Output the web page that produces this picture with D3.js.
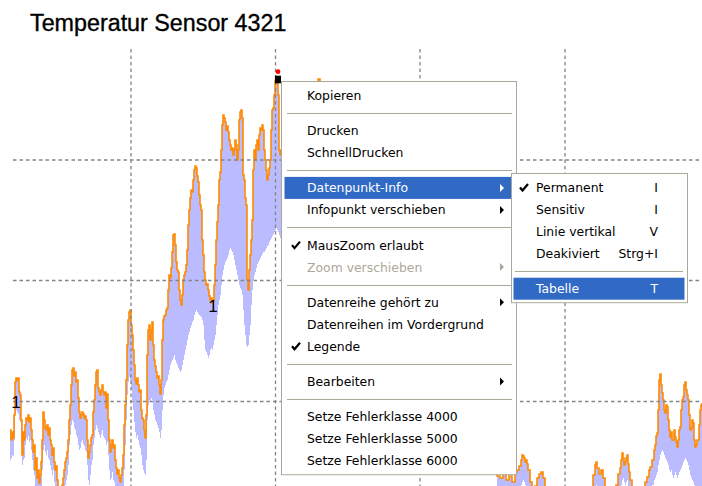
<!DOCTYPE html>
<html><head><meta charset="utf-8">
<script src="https://cdn.jsdelivr.net/npm/d3@7/dist/d3.min.js"></script>
<style>html,body{margin:0;padding:0;background:#fff;overflow:hidden}</style>
</head><body>
<svg id="chart" width="702" height="486"></svg>
<script>
const title = "Temperatur Sensor 4321";

// Segment A: consecutive sample numbers starting at segAStart (max / min raw values)
const segAStart = 0;
const hiA = [
70,60,68,62,85,118,122,120,122,108,
105,80,45,68,60,75,82,80,85,78,
82,70,60,48,55,30,42,22,30,17,
25,38,60,88,80,72,70,75,65,72,
60,55,45,52,38,30,34,20,12,10,
8,12,15,22,30,38,42,48,60,80,
95,115,130,132,124,128,118,120,102,88,
82,85,88,86,82,84,80,60,42,48,
55,62,65,88,100,115,128,130,112,108,
105,110,115,108,105,108,92,106,80,60,
48,55,60,52,55,40,32,26,30,22,
18,25,32,45,75,95,120,155,180,188,
190,175,165,150,135,120,116,122,115,108,
110,90,82,80,70,62,85,145,170,175,
160,170,178,155,140,134,128,122,124,115,
106,120,160,180,184,185,190,192,210,225,
222,232,248,265,266,255,238,230,228,210,
200,195,205,220,225,228,235,250,275,290,
302,310,308,320,330,334,332,324,318,305,
295,290,260,245,228,220,215,216,210,204,
200,202,197,200,215,235,260,278,295,320,
328,350,375,385,382,378,370,374,368,360,
355,350,352,345,350,360,355,340,350,380,
388,390,382,325,320,302,295,220,210,230,
245,260,280,330,350,340,355,360,350,365,
372,370,375,370,350,340,330,320,325,332,
340,370,390,392,405,420,422,416,405,350,345];
const loA = [
40,42,45,44,60,85,90,88,86,80,
78,55,35,40,42,55,62,60,64,58,
60,50,40,30,25,14,10,5,5,0,
0,10,30,50,55,48,45,50,42,40,
35,30,25,30,18,10,8,0,0,0,
0,0,0,0,5,15,20,25,35,55,
65,75,80,78,72,70,65,62,55,50,
52,58,60,56,54,50,48,35,20,15,
25,35,40,55,62,70,75,72,68,65,
62,66,70,64,62,60,55,58,45,30,
20,22,28,20,18,10,5,0,0,0,
0,0,0,10,30,55,80,105,118,123,
120,110,100,90,78,68,62,65,60,55,
52,45,35,30,27,25,40,80,95,100,
98,102,100,90,85,80,78,75,72,68,
62,70,90,105,112,115,118,120,125,130,
135,138,140,142,145,140,137,135,132,130,
128,130,135,140,145,150,155,160,165,168,
172,175,178,180,185,188,190,188,186,185,
184,183,180,175,160,150,148,145,142,145,
150,152,150,155,160,165,175,185,195,200,
205,215,225,230,235,238,240,242,245,250,
252,250,248,245,240,235,230,225,220,215,
212,210,205,190,175,165,155,153,155,165,
175,195,210,220,225,228,232,236,238,240,
242,244,246,248,248,250,252,254,255,258,
260,262,264,266,268,270,272,270,268,265,262];

// Segment B: explicit sample numbers
const tB = [271,275,280,285,290,295,300,305,308,310,315,325,340,355,370,385,400,415,430,445,460,475,485,487,490,493,496,499,502,505,
507,509,511,512,513,514,515,516,517,518,520,522,525,527,529,531,533,535,540,550,565,580,583,585,586,587,589,591,593,595,
602,606,608,610,611,612,613,614,615,616,617,618,619,620,622,630,635,637,639,640,642,644,645,646,647,
648,649,650,651,652,653,654,655,656,657,658,659,660,661,662,663,664,665,666,667,668,669,670,671,672,
673,674,675,676,677,678,679,680,681,682,683,684,685,686,687,688,689,690,691,692];
const hiB = [350,380,360,340,370,390,400,410,421,405,360,330,300,270,250,220,180,150,120,90,60,45,30,24,22,26,20,24,18,28,
30,34,40,45,44,42,38,40,36,30,18,12,14,22,26,28,22,10,5,0,0,8,25,35,38,32,26,30,22,10,
5,15,26,32,40,47,42,35,38,42,45,36,28,20,10,5,18,23,30,33,40,50,55,64,67,
90,120,126,115,107,100,90,87,95,93,80,70,63,68,60,
60,70,63,58,53,60,70,73,90,100,103,115,118,110,105,100,85,70,72,80,77,60,53,55,60,60,75,90,95,97];
const loB = [262,270,260,250,255,270,280,290,300,290,270,250,220,190,170,150,120,90,70,50,35,30,30,10,5,8,5,8,0,5,
10,12,15,18,20,18,15,12,10,5,0,0,0,5,8,10,5,0,0,0,0,0,5,12,15,12,8,10,5,0,
0,0,5,10,15,20,22,18,15,18,20,14,8,2,0,0,0,5,8,10,15,20,22,25,28,
35,40,45,48,50,48,45,42,40,38,35,30,28,30,25,
22,25,28,25,22,25,28,30,32,35,38,40,42,40,38,35,30,25,22,20,18,15,10,8,5,5,8,10,12,15];

const xGridTicks = [121, 265.5, 410, 555];
const yGridTicks = [98.5, 219.5, 340];
const infoLabels = [{t: 6, v: 92, text: "1"}, {t: 203, v: 188, text: "1"}];
const infoMarker = {t: 268, v: 420};

const menuItems = [
  {label: "Kopieren"}, {sep: true},
  {label: "Drucken"}, {label: "SchnellDrucken"}, {sep: true},
  {label: "Datenpunkt-Info", sub: true, hl: true}, {label: "Infopunkt verschieben", sub: true}, {sep: true},
  {label: "MausZoom erlaubt", check: true}, {label: "Zoom verschieben", sub: true, disabled: true}, {sep: true},
  {label: "Datenreihe gehört zu", sub: true}, {label: "Datenreihen im Vordergrund"}, {label: "Legende", check: true}, {sep: true},
  {label: "Bearbeiten", sub: true}, {sep: true},
  {label: "Setze Fehlerklasse 4000"}, {label: "Setze Fehlerklasse 5000"}, {label: "Setze Fehlerklasse 6000"}
];
const subItems = [
  {label: "Permanent", key: "I", check: true},
  {label: "Sensitiv", key: "I"},
  {label: "Linie vertikal", key: "V"},
  {label: "Deakiviert", key: "Strg+I"},
  {sep: true},
  {label: "Tabelle", key: "T", hl: true}
];

const data = hiA.map((h, i) => ({t: segAStart + i, hi: h, lo: loA[i]}))
  .concat(tB.map((t, i) => ({t: t, hi: hiB[i], lo: loB[i]})));

const svg = d3.select("#chart");
const W = 702, H = 486;
const x = d3.scaleLinear().domain([0, 692]).range([10, 702]);
const y = d3.scaleLinear().domain([14, 451]).range([486, 49]);

svg.append("defs").append("clipPath").attr("id", "plot")
  .append("rect").attr("x", 10).attr("y", 49).attr("width", 692).attr("height", 437);

svg.append("text").attr("x", 30).attr("y", 31)
  .attr("font-family", "Liberation Sans, Arial, sans-serif").attr("font-size", 23.3)
  .attr("fill", "#000").attr("stroke", "#000").attr("stroke-width", 0.35)
  .text(title);

const plot = svg.append("g").attr("clip-path", "url(#plot)");

plot.append("path").datum(data)
  .attr("fill", "#bbbbff")
  .attr("d", d3.area().x(d => x(d.t)).y0(d => y(d.lo)).y1(d => y(d.hi)).curve(d3.curveStepAfter));

plot.append("path").datum(data)
  .attr("fill", "none").attr("stroke", "#ff8a00").attr("stroke-width", 1.6)
  .attr("d", d3.line().x(d => x(d.t)).y(d => y(d.hi)).curve(d3.curveStepAfter));

// grid (drawn above data)
const grid = svg.append("g").attr("stroke", "#858585").attr("stroke-width", 1.3).attr("stroke-dasharray", "3.5,3");
grid.selectAll(".vg").data(xGridTicks).join("line")
  .attr("x1", d => x(d)).attr("x2", d => x(d)).attr("y1", 49).attr("y2", H);
grid.selectAll(".hg").data(yGridTicks).join("line")
  .attr("y1", d => y(d)).attr("y2", d => y(d)).attr("x1", 13).attr("x2", W);

// info labels
svg.selectAll(".info").data(infoLabels).join("text")
  .attr("x", d => x(d.t)).attr("y", d => y(d.v))
  .attr("text-anchor", "middle")
  .attr("font-family", "Liberation Sans, Arial, sans-serif").attr("font-size", 17)
  .attr("fill", "#000").text(d => d.text);

// info marker
svg.append("rect").attr("x", x(infoMarker.t) - 3).attr("y", y(infoMarker.v) - 4.3)
  .attr("width", 6).attr("height", 7.6).attr("fill", "#000");
svg.append("circle").attr("cx", x(infoMarker.t)).attr("cy", y(infoMarker.v) - 8.3)
  .attr("r", 2.4).attr("fill", "#ff0000");

// context menus
const FONT = "DejaVu Sans, Verdana, sans-serif";
function drawMenu(mx, my, mw, items, o) {
  const IH = 22, SH = 13.2;
  let h = 6;
  items.forEach(it => h += it.sep ? SH : IH);
  const g = svg.append("g");
  g.append("rect").attr("x", mx + 0.5).attr("y", my + 0.5).attr("width", mw - 1).attr("height", h)
    .attr("fill", "#fff").attr("stroke", "#aca899").attr("stroke-width", 1);
  let cy = my + 3.5;
  items.forEach(it => {
    if (it.sep) {
      g.append("line").attr("x1", mx + o.sepL).attr("x2", mx + mw - o.sepR)
        .attr("y1", Math.round(cy + SH / 2) + 0.5).attr("y2", Math.round(cy + SH / 2) + 0.5)
        .attr("stroke", "#aca899").attr("stroke-width", 1);
      cy += SH;
      return;
    }
    const col = it.hl ? "#fff" : (it.disabled ? "#aca899" : "#000");
    if (it.hl) {
      g.append("rect").attr("x", mx + o.hlL).attr("y", cy).attr("width", mw - o.hlL - o.hlR)
        .attr("height", IH).attr("fill", "#316ac5");
    }
    const mid = cy + IH / 2;
    g.append("text").attr("x", mx + o.textX).attr("y", mid + 4.4)
      .attr("font-family", FONT).attr("font-size", 12.4).attr("fill", col).text(it.label);
    if (it.check) {
      const cx = mx + o.checkX;
      g.append("path")
        .attr("d", `M${cx - 4},${mid} L${cx - 1.5},${mid + 3} L${cx + 4},${mid - 3.5}`)
        .attr("fill", "none").attr("stroke", col).attr("stroke-width", 2.2);
    }
    if (it.sub) {
      const ax = mx + mw - o.arrowR;
      g.append("path").attr("d", `M${ax},${mid - 4} L${ax + 4},${mid} L${ax},${mid + 4} Z`).attr("fill", col);
    }
    if (it.key) {
      g.append("text").attr("x", mx + mw - o.keyR).attr("y", mid + 4.4).attr("text-anchor", "end")
        .attr("font-family", FONT).attr("font-size", 12.4).attr("fill", col).text(it.key);
    }
    cy += IH;
  });
}
drawMenu(281, 81, 236, menuItems, {sepL: 6, sepR: 5, hlL: 3.5, hlR: 3, textX: 26, checkX: 15, arrowR: 17});
drawMenu(511, 173, 177, subItems, {sepL: 4, sepR: 5, hlL: 2.5, hlR: 3.5, textX: 25, checkX: 13, keyR: 30});
</script>
</body></html>
